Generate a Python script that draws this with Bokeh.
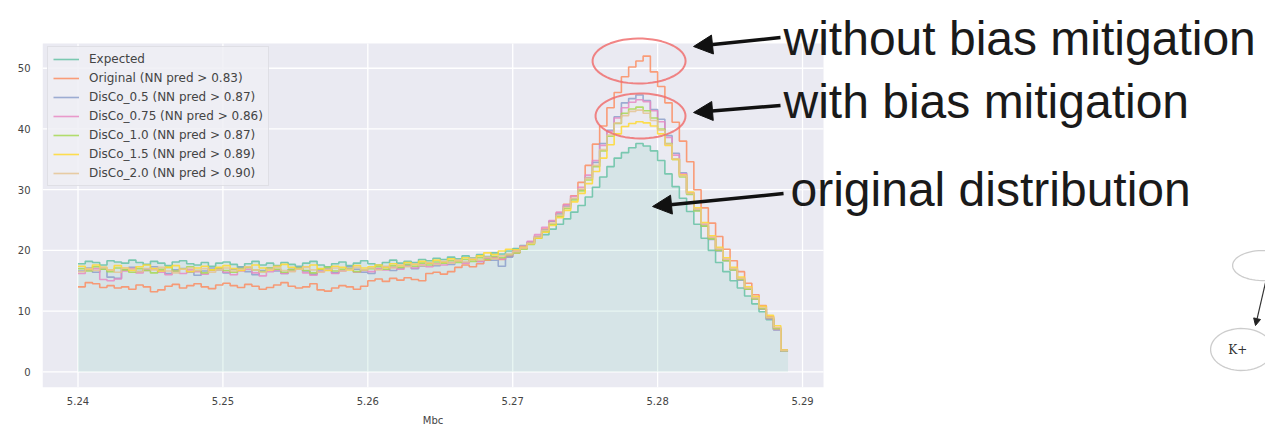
import numpy as np
from bokeh.plotting import figure
from bokeh.models import (Range1d, Legend, LegendItem, Label, Arrow, NormalHead,
                          PolyAnnotation, FixedTicker, LinearAxis)
from bokeh.embed import file_html
from bokeh.resources import INLINE

# ---------------- data ----------------
bin_start = 5.24
bin_width = 0.0005
x_ticks = [5.24, 5.25, 5.26, 5.27, 5.28, 5.29]
y_ticks = [0, 10, 20, 30, 40, 50]

expected = [
    17.8, 18.2, 18.0, 17.6, 18.3, 18.1, 17.9, 18.4, 18.0, 17.7,
    18.2, 17.9, 17.5, 18.1, 18.3, 17.8, 17.6, 18.0, 17.4, 17.9,
    18.1, 17.7, 17.3, 17.8, 18.2, 17.6, 17.9, 17.5, 18.0, 17.7,
    17.4, 17.9, 18.2, 17.6, 17.3, 17.8, 18.1, 17.5, 17.9, 18.3,
    17.8, 17.6, 18.0, 18.4, 17.9, 18.2, 18.0, 18.5, 18.3, 18.7,
    18.5, 18.9, 18.6, 19.1, 18.8, 19.3, 19.0, 19.6, 19.4, 19.9,
    20.3, 20.8, 21.3, 22.0, 22.6, 23.5, 24.3, 25.2, 26.3, 27.4,
    28.8, 30.4, 32.1, 33.8, 35.2, 36.1, 36.9, 37.6, 37.2, 36.4,
    34.8, 32.6, 30.5, 28.6, 26.4, 24.3, 22.0, 20.0, 18.0, 16.5,
    15.0, 13.8, 12.5, 11.2, 9.9, 8.6, 7.0, 3.5]

original = [
    14.0, 14.7, 14.5, 13.9, 14.2, 13.8, 14.0, 13.6, 14.3, 14.0,
    13.2, 13.5, 14.1, 14.4, 13.8, 14.2, 14.5, 14.0, 13.7, 14.3,
    14.6, 14.2, 13.9, 14.4, 14.1, 13.6, 13.9, 14.3, 14.7, 14.1,
    13.8, 14.0, 14.5, 13.5, 13.3, 13.8, 14.2, 14.0, 13.6, 14.1,
    15.0, 15.3, 14.9, 15.4, 15.1, 15.5, 15.2, 15.0, 16.2, 16.4,
    16.1, 16.5, 17.2, 17.6, 17.3, 17.8, 18.4, 18.7, 18.5, 19.0,
    19.6, 20.4, 21.2, 22.3, 23.5, 24.8, 26.2, 27.6, 29.0, 31.2,
    34.0, 37.5, 40.5, 43.5, 46.0, 48.6, 50.2, 51.2, 52.0, 49.4,
    47.0, 44.3, 41.1, 38.0, 34.6, 30.0, 27.0, 24.5, 22.3, 20.2,
    18.3, 16.5, 14.6, 12.7, 10.9, 9.1, 7.2, 3.4]

disco_05 = [
    16.6, 17.1, 16.4, 16.9, 15.6, 15.4, 16.8, 17.2, 16.5, 16.9,
    17.3, 16.7, 16.2, 16.8, 17.0, 16.4, 15.9, 16.6, 17.1, 16.8,
    16.3, 16.9, 17.2, 16.5, 16.0, 16.7, 17.1, 16.6, 16.2, 16.9,
    17.2, 16.6, 16.1, 16.8, 17.0, 16.3, 16.7, 17.3, 16.9, 16.4,
    16.2, 16.9, 17.3, 16.7, 17.1, 17.6, 17.0, 17.4, 17.9, 17.5,
    18.1, 17.7, 18.3, 18.0, 18.6, 18.2, 18.8, 18.4, 17.4, 18.9,
    19.8, 20.6, 21.4, 22.3, 23.4, 24.8, 26.0, 27.3, 28.5, 30.0,
    32.0, 34.5, 37.6, 39.8, 42.0, 44.3, 45.0, 45.6, 44.7, 43.2,
    41.6, 38.9, 36.0, 32.8, 29.4, 26.6, 24.0, 21.8, 19.9, 18.3,
    16.8, 15.1, 13.6, 12.0, 10.3, 8.7, 6.9, 3.4]

disco_075 = [
    16.2, 16.8, 17.0, 15.2, 15.0, 15.3, 16.6, 17.0, 16.3, 16.7,
    16.9, 16.4, 16.0, 16.6, 16.2, 16.8, 16.5, 16.1, 16.7, 17.0,
    16.4, 16.0, 16.6, 16.9, 16.3, 15.8, 16.5, 16.8, 16.2, 16.6,
    16.9, 16.3, 15.9, 16.5, 16.8, 16.2, 16.6, 16.9, 16.4, 16.7,
    16.5, 17.0, 16.8, 17.2, 16.9, 17.4, 17.1, 17.6, 17.3, 17.8,
    17.6, 18.0, 18.3, 17.9, 18.5, 18.2, 18.7, 18.9, 18.6, 19.2,
    19.9, 20.7, 21.5, 22.6, 23.8, 24.9, 26.3, 27.5, 28.9, 30.4,
    32.4, 34.8, 37.3, 39.6, 41.8, 43.5, 44.4, 44.8, 44.5, 43.0,
    41.2, 38.6, 35.7, 32.6, 29.5, 26.8, 24.3, 22.1, 20.1, 18.4,
    16.9, 15.3, 13.7, 12.1, 10.4, 8.8, 7.0, 3.6]

disco_10 = [
    17.0, 16.6, 17.3, 16.9, 16.5, 17.1, 16.8, 16.4, 17.0, 16.7,
    16.3, 16.9, 17.2, 16.6, 16.9, 17.3, 16.7, 16.3, 16.8, 17.1,
    16.7, 16.4, 17.0, 17.2, 16.8, 16.5, 17.1, 16.9, 16.4, 16.8,
    17.1, 16.7, 16.3, 16.9, 17.2, 16.6, 16.9, 17.0, 16.5, 16.8,
    17.0, 17.3, 16.9, 17.5, 17.2, 17.7, 17.4, 17.9, 17.6, 18.1,
    17.9, 18.3, 18.0, 18.5, 18.2, 18.8, 18.5, 19.0, 18.8, 19.3,
    19.6, 20.2, 21.0, 22.0, 23.1, 24.3, 25.6, 26.9, 28.3, 29.8,
    31.6, 33.8, 36.4, 38.8, 40.9, 42.6, 43.3, 43.6, 43.0, 41.8,
    40.0, 37.6, 35.0, 32.1, 29.2, 26.5, 24.0, 21.9, 20.0, 18.3,
    16.8, 15.2, 13.6, 12.0, 10.4, 8.9, 7.1, 3.5]

disco_15 = [
    17.4, 16.9, 17.6, 17.2, 16.8, 17.5, 17.1, 16.7, 17.3, 17.6,
    17.0, 16.6, 17.2, 17.5, 16.9, 16.5, 17.1, 17.4, 16.8, 17.2,
    17.5, 17.0, 16.7, 17.3, 17.6, 17.1, 16.8, 17.4, 17.7, 17.2,
    16.9, 17.3, 17.6, 17.0, 16.7, 17.4, 17.2, 16.8, 17.5, 17.1,
    17.3, 17.6, 17.2, 17.8, 17.5, 18.0, 17.7, 18.2, 17.9, 18.4,
    18.1, 18.6, 18.3, 18.8, 18.5, 19.1, 19.6, 19.3, 19.9, 20.2,
    20.1, 20.5, 21.1, 22.0, 23.0, 24.1, 25.4, 26.6, 28.0, 29.4,
    31.0, 33.0, 35.2, 37.4, 39.2, 40.4, 40.9, 41.2, 41.0, 40.5,
    39.2, 37.3, 35.0, 32.4, 29.6, 27.0, 24.6, 22.4, 20.5, 18.8,
    17.2, 15.6, 14.0, 12.4, 10.8, 9.3, 7.6, 3.6]

disco_20 = [
    16.5, 17.0, 16.7, 17.2, 16.8, 16.4, 17.1, 16.9, 16.5, 17.0,
    16.8, 17.2, 16.6, 16.3, 16.9, 17.1, 16.7, 17.0, 16.4, 16.8,
    17.1, 16.6, 16.9, 17.3, 16.8, 16.4, 16.9, 17.2, 16.7, 16.5,
    16.9, 17.2, 16.8, 16.4, 16.9, 17.1, 16.6, 16.9, 17.2, 16.8,
    17.1, 16.8, 17.4, 17.1, 17.6, 17.3, 17.8, 17.5, 18.0, 17.7,
    18.2, 17.9, 18.4, 18.1, 18.7, 18.4, 18.9, 18.6, 19.1, 19.4,
    19.8, 20.4, 21.2, 22.2, 23.3, 24.5, 25.8, 27.1, 28.6, 30.1,
    31.9, 34.0, 36.6, 39.0, 41.0, 42.2, 42.9, 43.1, 42.6, 41.4,
    39.8, 37.5, 35.1, 32.3, 29.4, 26.8, 24.4, 22.2, 20.3, 18.6,
    17.0, 15.4, 13.8, 12.2, 10.6, 9.0, 7.3, 3.5]

labels = ["Expected", "Original (NN pred > 0.83)", "DisCo_0.5 (NN pred > 0.87)",
          "DisCo_0.75 (NN pred > 0.86)", "DisCo_1.0 (NN pred > 0.87)",
          "DisCo_1.5 (NN pred > 0.89)", "DisCo_2.0 (NN pred > 0.90)"]
series = [expected, original, disco_05, disco_075, disco_10, disco_15, disco_20]
colors = ["#66c2a5", "#fc8d62", "#8da0cb", "#e78ac3", "#a6d854", "#ffd92f", "#e5c494"]

annot_texts = ["without bias mitigation", "with bias mitigation", "original distribution"]
x_label = "Mbc"

# axes-box limits (data units) of the seaborn-style panel
ax_x0, ax_x1 = 5.23755, 5.29145
ax_y0, ax_y1 = -2.575, 54.075

# ---------------- figure ----------------
edges = bin_start + bin_width * np.arange(len(expected) + 1)


def extend(v):
    return list(v) + [v[-1]]


# the frame covers the whole slide to the right/top so that the slide
# annotations are not clipped; the grey panel is drawn as a quad
p = figure(width=1265, height=429, output_backend="svg", toolbar_location=None,
           x_range=Range1d(ax_x0, 5.32195), y_range=Range1d(ax_y0, 61.156),
           min_border_left=42, min_border_right=0, min_border_top=0,
           min_border_bottom=42)
p.background_fill_color = "white"
p.border_fill_color = "white"
p.outline_line_color = None
p.grid.visible = False

p.quad(left=[ax_x0], right=[ax_x1], bottom=[ax_y0], top=[ax_y1],
       fill_color="#eaeaf2", line_color=None, level="image")

# white grid lines, limited to the panel
p.segment(x0=x_ticks, x1=x_ticks, y0=[ax_y0] * len(x_ticks), y1=[ax_y1] * len(x_ticks),
          line_color="white", line_width=1.3)
p.segment(x0=[ax_x0] * len(y_ticks), x1=[ax_x1] * len(y_ticks), y0=y_ticks, y1=y_ticks,
          line_color="white", line_width=1.3)

p.xaxis.ticker = FixedTicker(ticks=x_ticks)
p.yaxis.ticker = FixedTicker(ticks=y_ticks)
p.axis.axis_line_color = None
p.axis.major_tick_line_color = None
p.axis.minor_tick_line_color = None
p.axis.major_tick_out = 0
p.axis.major_tick_in = 0
p.axis.minor_tick_out = 0
p.axis.major_label_text_font = "DejaVu Sans"
p.axis.major_label_text_font_size = "10px"
p.axis.major_label_text_color = "#444444"
p.xaxis.major_label_standoff = 9
p.yaxis.major_label_standoff = 12

# axis title centred under the panel (second axis with one labelled tick)
mid = (ax_x0 + ax_x1) / 2
ax2 = LinearAxis(ticker=FixedTicker(ticks=[mid]), major_label_overrides={mid: x_label},
                 axis_line_color=None, major_tick_line_color=None,
                 minor_tick_line_color=None, major_tick_out=0, major_tick_in=0,
                 minor_tick_out=0, major_label_standoff=7,
                 major_label_text_font="DejaVu Sans",
                 major_label_text_font_size="10px",
                 major_label_text_color="#444444")
p.add_layout(ax2, "below")

p.varea_step(x=edges, y1=0, y2=extend(expected), step_mode="after",
             fill_color=colors[0], fill_alpha=0.15)

items = []
for lab, vals, col in zip(labels, series, colors):
    r = p.step(x=edges, y=extend(vals), mode="after", line_color=col,
               line_width=1.6, line_alpha=0.85)
    items.append(LegendItem(label=lab, renderers=[r]))

legend = Legend(items=items, location=(5, 201), padding=5,
                spacing=5, label_height=12, glyph_height=12, glyph_width=26,
                label_standoff=10, label_text_font="DejaVu Sans",
                label_text_font_size="12px", label_text_color="#444444",
                background_fill_color="#eeeef4", background_fill_alpha=0.85,
                border_line_color="#cfcfd6", border_line_width=1)
p.add_layout(legend)


def ellipse_pts(cx, cy, w, h, n=60):
    t = np.linspace(0, 2 * np.pi, n)
    return list(cx + w / 2 * np.cos(t)), list(cy + h / 2 * np.sin(t))


# red ellipses around the peaks
for cx, cy, w, h in [(5.27872, 51.19, 0.00642, 7.41), (5.27882, 42.14, 0.00621, 7.41)]:
    xs, ys = ellipse_pts(cx, cy, w, h)
    p.add_layout(PolyAnnotation(xs=xs, ys=ys, fill_alpha=0, line_color="#f07070",
                                line_width=2, line_alpha=0.85))

# arrows
for (x0, y0, x1, y1) in [(5.28848, 55.06, 5.28248, 53.58),
                         (5.28848, 43.87, 5.28248, 42.71),
                         (5.28869, 29.37, 5.27965, 27.23)]:
    p.add_layout(Arrow(x_start=x0, y_start=y0, x_end=x1, y_end=y1,
                       line_color="#111111", line_width=3.5,
                       end=NormalHead(size=19, fill_color="#111111",
                                      line_color="#111111")))

# annotation texts
for txt, (tx, ty) in zip(annot_texts, [(5.28869, 54.87), (5.28869, 44.52), (5.28917, 30.03)]):
    p.add_layout(Label(x=tx, y=ty, text=txt, text_font="Liberation Sans",
                       text_font_size="48px", text_color="#1a1a1a",
                       text_baseline="alphabetic", text_align="left"))

# partial graph on the right edge of the slide
for cx, cy, w, h in [(5.32175, 17.51, 0.00414, 4.94), (5.32030, 3.68, 0.00428, 6.92)]:
    xs, ys = ellipse_pts(cx, cy, w, h)
    p.add_layout(PolyAnnotation(xs=xs, ys=ys, fill_alpha=0, line_color="#555555",
                                line_width=1.3))
p.add_layout(Label(x=5.32003, y=3.68, text="K+", text_font="DejaVu Serif",
                   text_font_size="12px", text_color="#333333",
                   text_baseline="middle", text_align="center"))
p.add_layout(Arrow(x_start=5.32195, y_start=14.71, x_end=5.32126, y_end=7.63,
                   line_color="#333333", line_width=1.2,
                   end=NormalHead(size=7, fill_color="#222222", line_color="#222222")))

open("out.html", "w").write(file_html(p, INLINE))
